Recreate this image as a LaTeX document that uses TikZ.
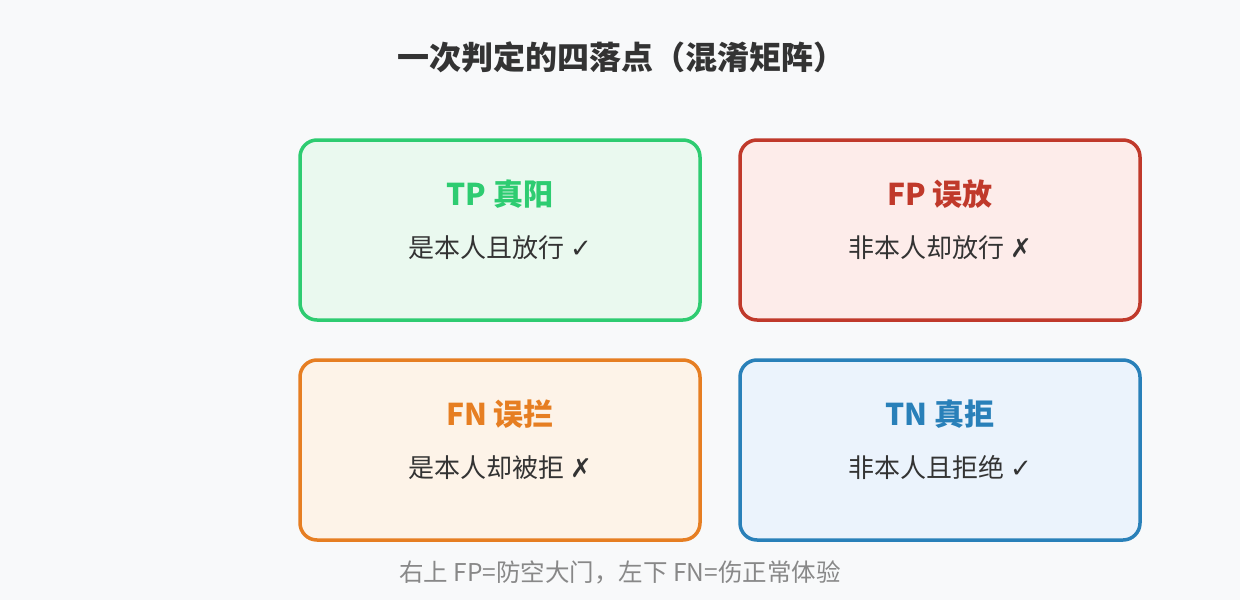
\documentclass[tikz,border=0pt]{standalone}
\usepackage{fontspec}
\setmainfont{Noto Sans CJK SC}
\newfontfamily\symfont{DejaVu Sans}
\usetikzlibrary{positioning}
\definecolor{bgpage}{HTML}{F8F9FA}
\definecolor{inkdark}{HTML}{333333}
\definecolor{inkgray}{HTML}{888888}
\definecolor{tpline}{HTML}{2ECC71}
\definecolor{tpfill}{HTML}{EAF9EF}
\definecolor{fpline}{HTML}{C0392B}
\definecolor{fpfill}{HTML}{FDECEA}
\definecolor{fnline}{HTML}{E67E22}
\definecolor{fnfill}{HTML}{FDF3E8}
\definecolor{tnline}{HTML}{2980B9}
\definecolor{tnfill}{HTML}{EBF3FC}
\tikzset{
  cellbox/.style={draw=#1, line width=3.5pt, rounded corners=17pt,
    minimum width=400pt, minimum height=180pt, inner sep=0pt},
  cellhead/.style={text=#1, font=\fontsize{30pt}{36pt}\selectfont\bfseries},
  cellbody/.style={text=inkdark, font=\fontsize{26pt}{32pt}\selectfont}
}
% one cell of the matrix: name, centre, line colour, fill colour, head, body
\newcommand{\drawcell}[7]
{
  \node[cellbox=#3, fill=#4] (#1) at #2 {};
  \node[cellhead=#3, below=56pt of #1.north, anchor=center] (#1head) {#5};
  \node[cellbody, below=53pt of #1head.center, anchor=center] (#1body) {#6 {\symfont #7}};
}

\begin{document}
\begin{tikzpicture}[x=1pt, y=-1pt]
    \useasboundingbox[fill=bgpage] (0,0) rectangle (1240,600);

    \node[text=inkdark, font=\fontsize{32pt}{38pt}\selectfont\bfseries]
      (title) at (621,57) {一次判定的四落点（混淆矩阵）};

    % the four outcomes
    \drawcell{tp}{(500,230)}{tpline}{tpfill}{TP 真阳}{是本人且放行}{✓}
    \drawcell{fp}{(940,230)}{fpline}{fpfill}{FP 误放}{非本人却放行}{✗}
    \drawcell{fn}{(500,450)}{fnline}{fnfill}{FN 误拦}{是本人却被拒}{✗}
    \drawcell{tn}{(940,450)}{tnline}{tnfill}{TN 真拒}{非本人且拒绝}{✓}

    \node[text=inkgray, font=\fontsize{24.5pt}{30pt}\selectfont]
      (note) at (620,572) {右上 FP=防空大门，左下 FN=伤正常体验};
\end{tikzpicture}
\end{document}
